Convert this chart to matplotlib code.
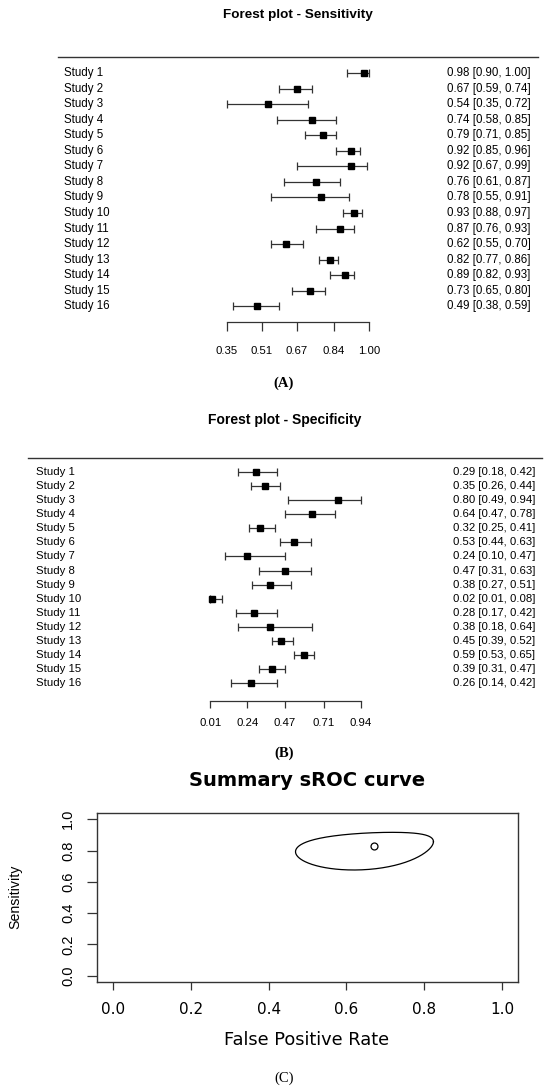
import numpy as np
import matplotlib
matplotlib.use("Agg")
import matplotlib.pyplot as plt
from matplotlib.transforms import blended_transform_factory

plt.rcParams['font.family'] = ['Liberation Sans', 'DejaVu Sans']

studies = ["Study %d" % i for i in range(1, 17)]

sens_est = [0.98, 0.67, 0.54, 0.74, 0.79, 0.92, 0.92, 0.76, 0.78, 0.93, 0.87, 0.62, 0.82, 0.89, 0.73, 0.49]
sens_lo = [0.90, 0.59, 0.35, 0.58, 0.71, 0.85, 0.67, 0.61, 0.55, 0.88, 0.76, 0.55, 0.77, 0.82, 0.65, 0.38]
sens_hi = [1.00, 0.74, 0.72, 0.85, 0.85, 0.96, 0.99, 0.87, 0.91, 0.97, 0.93, 0.70, 0.86, 0.93, 0.80, 0.59]
sens_ticks = [0.35, 0.51, 0.67, 0.84, 1.00]

spec_est = [0.29, 0.35, 0.80, 0.64, 0.32, 0.53, 0.24, 0.47, 0.38, 0.02, 0.28, 0.38, 0.45, 0.59, 0.39, 0.26]
spec_lo = [0.18, 0.26, 0.49, 0.47, 0.25, 0.44, 0.10, 0.31, 0.27, 0.01, 0.17, 0.18, 0.39, 0.53, 0.31, 0.14]
spec_hi = [0.42, 0.44, 0.94, 0.78, 0.41, 0.63, 0.47, 0.63, 0.51, 0.08, 0.42, 0.64, 0.52, 0.65, 0.47, 0.42]
spec_ticks = [0.01, 0.24, 0.47, 0.71, 0.94]

# summary point and confidence region (logit scale)
fpr_hat = 0.67
sens_hat = 0.827
sd_fpr = 0.832
sd_sens = 0.83
rho = 0.27

W, H = 550, 1090
fig = plt.figure(figsize=(W / 100, H / 100), dpi=100)
LINE = '#333333'


def box(l, r, t, b):
    return [l / W, 1 - b / H, (r - l) / W, (b - t) / H]


def forest(left, right, top, step, nrow_axis, est, lo, hi, ticks, title, title_y, title_x,
           lab_x, val_x, line_x, fs, tfs, ticklen, pad):
    bottom = top + nrow_axis * step
    ax = fig.add_axes(box(left, right, top, bottom))
    ax.set_xlim(ticks[0], ticks[-1])
    ax.set_ylim(nrow_axis, 0)
    rows = np.arange(1, len(est) + 1)
    err = [np.array(est) - np.array(lo), np.array(hi) - np.array(est)]
    ax.errorbar(est, rows, xerr=err, fmt='none', ecolor=LINE, elinewidth=0.9,
                capsize=3, capthick=0.9, clip_on=False)
    ax.plot(est, rows, 's', color='black', markersize=3.8, clip_on=False)
    for s in ['top', 'left', 'right']:
        ax.spines[s].set_visible(False)
    ax.spines['bottom'].set_color(LINE)
    ax.spines['bottom'].set_linewidth(0.9)
    ax.set_yticks([])
    ax.set_xticks(ticks)
    ax.set_xticklabels(["%.2f" % t for t in ticks])
    ax.tick_params(axis='x', length=ticklen, width=0.9, color=LINE, pad=pad, labelsize=8.2)
    tr = blended_transform_factory(fig.transFigure, ax.transData)
    for r, name, e, l, h in zip(rows, studies, est, lo, hi):
        ax.text(lab_x / W, r, name, transform=tr, ha='left', va='center', fontsize=fs)
        ax.text(val_x / W, r, "%.2f [%.2f, %.2f]" % (e, l, h), transform=tr,
                ha='right', va='center', fontsize=fs)
    ax.plot([line_x[0] / W, line_x[1] / W], [0, 0], transform=tr, color=LINE,
            lw=1.0, clip_on=False)
    fig.text(title_x / W, 1 - title_y / H, title, ha='center', va='center',
             fontsize=tfs, fontweight='bold')
    return ax


forest(226.9, 368.8, 57.4, 15.56, 17, sens_est, sens_lo, sens_hi, sens_ticks,
       "Forest plot - Sensitivity", 15, 297.6, 63.7, 530.6, (57.8, 537.6), 8.3, 9.7, 6.7, 10.8)
forest(210.2, 360.8, 458, 14.07, 17.25, spec_est, spec_lo, spec_hi, spec_ticks,
       "Forest plot - Specificity", 420, 284.6, 35.7, 535.2, (28, 542), 8.2, 10.0, 4.8, 7.5)

# sROC panel
ax = fig.add_axes(box(97.4, 517.7, 813, 982))
t = np.linspace(0, 2 * np.pi, 400)
cx = np.log(fpr_hat / (1 - fpr_hat))
cy = np.log(sens_hat / (1 - sens_hat))
lx = cx + sd_fpr * np.cos(t)
ly = cy + sd_sens * (rho * np.cos(t) + np.sqrt(1 - rho ** 2) * np.sin(t))
ax.plot(1 / (1 + np.exp(-lx)), 1 / (1 + np.exp(-ly)), color='black', lw=0.9)
ax.plot([fpr_hat], [sens_hat], 'o', mfc='none', mec='black', markersize=5, mew=0.9)
ax.set_xlim(-0.04, 1.04)
ax.set_ylim(-0.04, 1.04)
ticks = [0.0, 0.2, 0.4, 0.6, 0.8, 1.0]
ax.set_xticks(ticks)
ax.set_yticks(ticks)
ax.set_xticklabels(["%.1f" % v for v in ticks], family='DejaVu Sans', fontsize=11)
ax.set_yticklabels(["%.1f" % v for v in ticks], rotation=90, va='center',
                   family='Liberation Sans', fontsize=10.5)
ax.tick_params(axis='x', length=5.8, width=0.9, color=LINE, pad=8.5)
ax.tick_params(axis='y', length=7.2, width=0.9, color=LINE, pad=9)
for s in ax.spines.values():
    s.set_color(LINE)
    s.set_linewidth(1.0)
fig.text(307 / W, 1 - 780 / H, "Summary sROC curve", ha='center', va='center',
         fontsize=14, fontweight='bold', family='DejaVu Sans')
fig.text(307 / W, 1 - 1040 / H, "False Positive Rate", ha='center', va='center',
         fontsize=12.8, family='DejaVu Sans')
fig.text(15.8 / W, 1 - 897 / H, "Sensitivity", ha='center', va='center', rotation=90,
         fontsize=10.2)

for lab, y, wt in [("(A)", 383, 'bold'), ("(B)", 753, 'bold'), ("(C)", 1078, 'normal')]:
    fig.text(284 / W, 1 - y / H, lab, ha='center', va='center', fontsize=10.5,
             family='Liberation Serif', fontweight=wt)

fig.savefig("out.png", dpi=100)
